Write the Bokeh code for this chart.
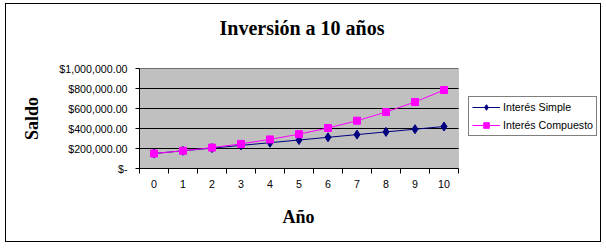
from bokeh.plotting import figure
from bokeh.models import FixedTicker, Range1d, Legend, LegendItem, BoxAnnotation, Title
from bokeh.embed import file_html
from bokeh.resources import INLINE

years = list(range(11))
simple = [150000, 177000, 204000, 231000, 258000, 285000, 312000, 339000, 366000, 393000, 420000]
compuesto = [150000, 177000, 209000, 246000, 291000, 343000, 405000, 478000, 564000, 665000, 785000]
y_ticks = [0, 200000, 400000, 600000, 800000, 1000000]
y_labels = ["$-", "$200,000.00", "$400,000.00", "$600,000.00", "$800,000.00", "$1,000,000.00"]
series_names = ["Interés Simple", "Interés Compuesto"]
series_colors = ["#000080", "#FF00FF"]

# layout (pixels inside the outer border)
FRAME_W = 461          # frame reaches the right border so the legend can sit inside it
PLOT_W = 319           # width of the grey plot area
x_lo = years[0] - 0.5
x_hi = years[-1] + 0.5
x_end = x_lo + (x_hi - x_lo) * FRAME_W / PLOT_W

p = figure(frame_width=FRAME_W, frame_height=100, output_backend="svg", toolbar_location=None,
           title=None, x_range=Range1d(x_lo, x_end), y_range=Range1d(y_ticks[0], y_ticks[-1]),
           min_border_left=133, min_border_right=0, min_border_top=64, min_border_bottom=73)
p.styles = {"border": "1px solid black", "margin-left": "5px", "margin-top": "3px"}

# titles: spacer (nearest the frame) then the real title
p.add_layout(Title(text=" ", text_font_size="10px", standoff=17), "above")
p.add_layout(Title(text="Inversión a 10 años", align="left", offset=80, standoff=0,
                   text_font="Liberation Serif", text_font_style="bold",
                   text_font_size="20px", text_color="black"), "above")

p.background_fill_color = "white"
p.border_fill_color = "white"
p.outline_line_color = None
p.grid.visible = False

plot_area = BoxAnnotation(left=x_lo, right=x_hi, bottom=y_ticks[0], top=y_ticks[-1],
                          fill_color="#C0C0C0", fill_alpha=1.0, line_color="#808080",
                          line_width=1, level="image")
p.add_layout(plot_area)

grid_y = y_ticks[1:]
p.segment(x0=[x_lo] * len(grid_y), x1=[x_hi] * len(grid_y), y0=grid_y, y1=grid_y,
          line_color="black", line_width=1)

ya = p.yaxis[0]
ya.ticker = FixedTicker(ticks=y_ticks)
ya.major_label_overrides = dict(zip(y_ticks, y_labels))
ya.major_tick_out = 4
ya.major_tick_in = 0
ya.minor_tick_out = 0
ya.minor_tick_in = 0
ya.major_label_standoff = 8
ya.axis_label = "Saldo"
ya.axis_label_standoff = 14

xa = p.xaxis[0]
xa.bounds = (x_lo, x_hi)
xa.ticker = FixedTicker(ticks=years, minor_ticks=[y - 0.5 for y in years] + [x_hi])
xa.major_tick_out = 0
xa.major_tick_in = 0
xa.minor_tick_out = 5
xa.minor_tick_in = 0
xa.minor_tick_line_color = "black"
xa.major_label_standoff = 6

for ax in (xa, ya):
    ax.axis_line_color = "black"
    ax.major_tick_line_color = "black"
    ax.major_label_text_font = "Liberation Sans"
    ax.major_label_text_font_size = "8pt"
    ax.major_label_text_color = "black"
    ax.axis_label_text_font = "Liberation Serif"
    ax.axis_label_text_font_style = "bold"
    ax.axis_label_text_font_size = "18px"
    ax.axis_label_text_color = "black"

# x axis title, centred under the grey plot area
p.add_layout(Title(text="Año", align="left", offset=143, standoff=28,
                   text_font="Liberation Serif", text_font_style="bold",
                   text_font_size="18px", text_color="black"), "below")

r1 = p.line(years, simple, line_color=series_colors[0], line_width=1)
m1 = p.scatter(years, simple, marker="diamond", size=9, fill_color=series_colors[0], line_color=series_colors[0])
r2 = p.line(years, compuesto, line_color=series_colors[1], line_width=1)
m2 = p.scatter(years, compuesto, marker="square", size=7, fill_color=series_colors[1], line_color=series_colors[1])

legend = Legend(items=[LegendItem(label=series_names[0], renderers=[r1, m1]),
                       LegendItem(label=series_names[1], renderers=[r2, m2])],
                location=(329, 32), border_line_color="black", border_line_width=1,
                background_fill_color="white", background_fill_alpha=1.0,
                label_text_font="Liberation Sans", label_text_font_size="8pt", label_text_color="black",
                glyph_width=28, glyph_height=14, label_height=14, spacing=4, padding=3,
                margin=0, label_standoff=3)
p.add_layout(legend)

open("out.html", "w").write(file_html(p, INLINE))
